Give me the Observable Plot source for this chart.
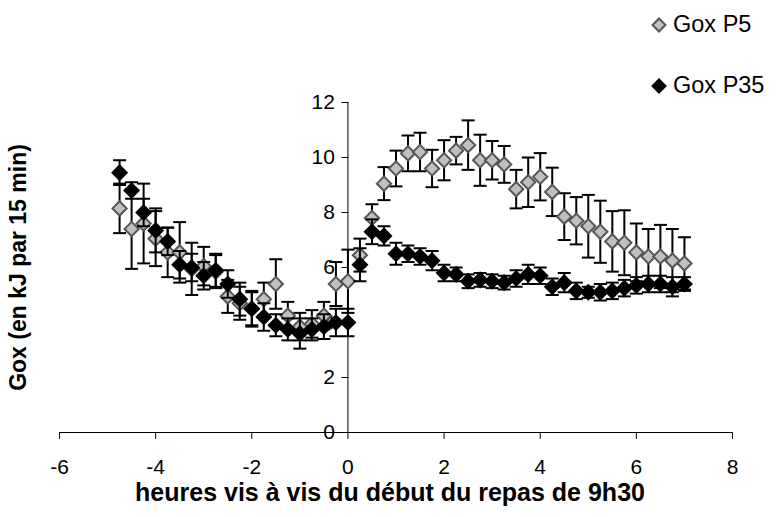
<!DOCTYPE html>
<html>
<head>
<meta charset="utf-8">
<script src="https://cdn.jsdelivr.net/npm/d3@7"></script>
<script src="https://cdn.jsdelivr.net/npm/@observablehq/plot@0.6"></script>
<style>
  html, body { margin: 0; padding: 0; background: #fff; }
  #wrap { position: relative; width: 777px; height: 517px; font-family: "Liberation Sans", Arial, sans-serif; }
  .leg { position: absolute; left: 651px; display: flex; align-items: center; font-size: 23.5px; color: #000; white-space: nowrap; }
  .leg svg { margin-right: 6px; }
</style>
</head>
<body>
<div id="wrap"></div>
<script>
const hours = [-4.75,-4.5,-4.25,-4,-3.75,-3.5,-3.25,-3,-2.75,-2.5,-2.25,-2,-1.75,-1.5,-1.25,-1,-0.75,-0.5,-0.25,0,
  0.25,0.5,0.75,1,1.25,1.5,1.75,2,2.25,2.5,2.75,3,3.25,3.5,3.75,4,4.25,4.5,4.75,5,5.25,5.5,5.75,6,6.25,6.5,6.75,7];
const goxP5 = [8.15,7.4,7.6,7.05,6.55,6.55,5.95,6.05,5.85,4.95,4.7,4.5,4.85,5.4,4.25,3.85,3.95,4.25,5.4,5.5,
  6.45,7.8,9.05,9.6,10.15,10.2,9.6,9.9,10.25,10.45,9.9,9.9,9.75,8.85,9.1,9.3,8.75,7.85,7.7,7.5,7.3,6.95,6.9,6.55,6.4,6.4,6.25,6.15];
const goxP5Err = [0.9,1.45,1.45,1.0,0.9,1.1,0.95,0.7,0.6,0.6,0.6,0.6,0.6,0.9,0.5,0.5,0.5,0.5,0.8,1.15,
  0.6,0.5,0.6,0.65,0.65,0.7,0.68,0.73,0.5,0.9,0.93,0.7,0.67,0.7,0.9,0.86,0.88,0.85,0.86,1.14,1.13,1.1,1.18,1.05,1.0,1.15,1.15,0.95];
const goxP35 = [9.45,8.8,8.0,7.35,6.95,6.1,6.0,5.7,5.9,5.4,4.85,4.5,4.2,3.9,3.75,3.6,3.75,3.85,4.0,4.0,
  6.1,7.3,7.15,6.5,6.5,6.4,6.25,5.8,5.75,5.5,5.55,5.5,5.45,5.6,5.75,5.7,5.3,5.45,5.15,5.1,5.1,5.15,5.25,5.35,5.4,5.4,5.3,5.4];
const goxP35Err = [0.45,0.3,0.5,0.8,0.5,0.5,0.5,0.5,0.6,0.5,0.6,0.65,0.5,0.4,0.4,0.55,0.4,0.45,0.5,0.5,
  0.6,0.45,0.35,0.4,0.3,0.3,0.35,0.3,0.25,0.25,0.25,0.25,0.25,0.3,0.35,0.3,0.3,0.35,0.3,0.2,0.3,0.3,0.3,0.3,0.3,0.3,0.35,0.25];
const xTicks = [-6,-4,-2,0,2,4,6,8];
const yTicks = [0,2,4,6,8,10,12];
const seriesNames = ["Gox P5", "Gox P35"];
const xTitle = "heures vis à vis du début du repas de 9h30";
const yTitle = "Gox (en kJ par 15 min)";

const rowsP5 = hours.map((h, i) => ({h, v: goxP5[i], lo: goxP5[i] - goxP5Err[i], hi: goxP5[i] + goxP5Err[i]}));
const rowsP35 = hours.map((h, i) => ({h, v: goxP35[i], lo: goxP35[i] - goxP35Err[i], hi: goxP35[i] + goxP35Err[i]}));

const capSymbol = { draw(ctx, size) { const w = Math.sqrt(size / Math.PI); ctx.moveTo(-w, 0); ctx.lineTo(w, 0); } };
const lineShape = { draw(ctx, l) { ctx.moveTo(0, 0); ctx.lineTo(0, -l); } };

function errMarks(rows) {
  return [
    Plot.ruleX(rows, {x: "h", y1: "lo", y2: "hi", stroke: "#000", strokeWidth: 2}),
    Plot.dot(rows, {x: "h", y: "hi", symbol: capSymbol, r: 6.5, stroke: "#000", strokeWidth: 2, fill: "none"}),
    Plot.dot(rows, {x: "h", y: "lo", symbol: capSymbol, r: 6.5, stroke: "#000", strokeWidth: 2, fill: "none"})
  ];
}

const font = "'Liberation Sans', Arial, sans-serif";
const chart = Plot.plot({
  width: 777, height: 517,
  marginLeft: 59, marginRight: 45, marginTop: 102, marginBottom: 85,
  style: {fontFamily: font, background: "#fff", overflow: "visible"},
  x: {domain: [-6, 8], axis: null},
  y: {domain: [0, 12], axis: null},
  marks: [
    Plot.ruleY([0], {stroke: "#000", strokeWidth: 1}),
    Plot.ruleX([0], {stroke: "#000", strokeWidth: 1}),
    Plot.vector(xTicks, {x: d => d, y: 0, length: 6, rotate: 180, anchor: "start", shape: lineShape, stroke: "#000", strokeWidth: 1}),
    Plot.vector(yTicks, {x: 0, y: d => d, length: 6, rotate: -90, anchor: "start", shape: lineShape, stroke: "#000", strokeWidth: 1}),
    Plot.text(xTicks, {x: d => d, y: 0, dy: 35, text: d => String(d), fontSize: 21, fill: "#000"}),
    Plot.text(yTicks, {x: 0, y: d => d, dx: -13, textAnchor: "end", text: d => String(d), fontSize: 21, fill: "#000"}),
    ...errMarks(rowsP5),
    Plot.dot(rowsP5, {x: "h", y: "v", symbol: "diamond2", r: 6.4, fill: "#c0c0c0", stroke: "#555", strokeWidth: 2}),
    ...errMarks(rowsP35),
    Plot.dot(rowsP35, {x: "h", y: "v", symbol: "diamond2", r: 6.4, fill: "#000", stroke: "#000", strokeWidth: 2}),
    Plot.text([xTitle], {frameAnchor: "bottom", dy: 68, dx: -6, textAnchor: "middle", text: d => d, fontSize: 25, fontWeight: "bold", fill: "#000"}),
    Plot.text([yTitle], {frameAnchor: "left", dx: -41, rotate: -90, textAnchor: "middle", text: d => d, fontSize: 23, fontWeight: "bold", fill: "#000"})
  ]
});
const wrap = document.getElementById("wrap");
wrap.appendChild(chart);

const legendStyles = [
  {fill: "#c0c0c0", stroke: "#555", top: 25},
  {fill: "#000", stroke: "#000", top: 86}
];
seriesNames.forEach((name, i) => {
  const s = legendStyles[i];
  const div = document.createElement("div");
  div.className = "leg";
  div.style.top = (s.top - 14) + "px";
  div.innerHTML = `<svg width="16" height="16" viewBox="-8 -8 16 16"><path d="M0,-6.5L6.5,0L0,6.5L-6.5,0Z" fill="${s.fill}" stroke="${s.stroke}" stroke-width="2"/></svg>`;
  const span = document.createElement("span");
  span.textContent = name;
  div.appendChild(span);
  wrap.appendChild(div);
});
</script>
</body>
</html>
